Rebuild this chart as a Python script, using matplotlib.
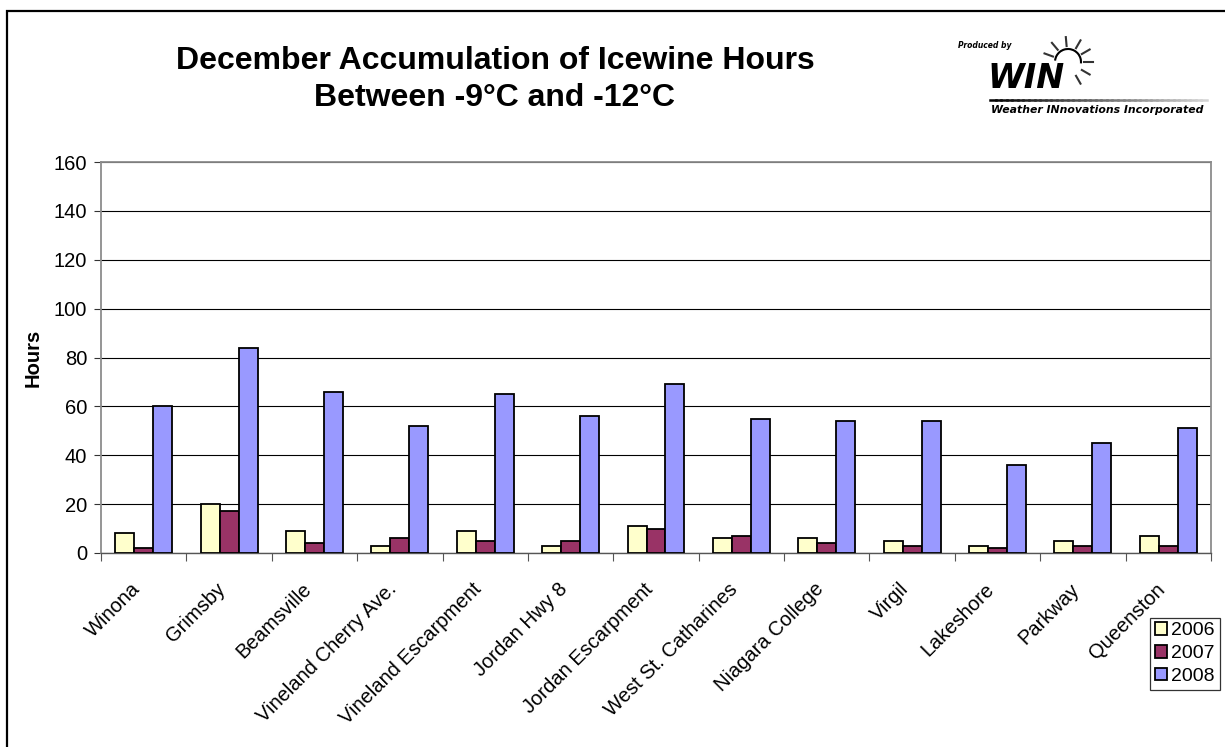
import numpy as np
import matplotlib
matplotlib.use("Agg")
import matplotlib.pyplot as plt
from matplotlib.patches import Rectangle, Arc
from matplotlib.lines import Line2D
from matplotlib.transforms import ScaledTranslation

plt.rcParams['font.family'] = ['Liberation Sans', 'DejaVu Sans']

stations = ["Winona", "Grimsby", "Beamsville", "Vineland Cherry Ave.",
            "Vineland Escarpment", "Jordan Hwy 8", "Jordan Escarpment",
            "West St. Catharines", "Niagara College", "Virgil", "Lakeshore",
            "Parkway", "Queenston"]
hours_2006 = [8, 20, 9, 3, 9, 3, 11, 6, 6, 5, 3, 5, 7]
hours_2007 = [2, 17, 4, 6, 5, 5, 10, 7, 4, 3, 2, 3, 3]
hours_2008 = [60, 84, 66, 52, 65, 56, 69, 55, 54, 54, 36, 45, 51]
years = ["2006", "2007", "2008"]
colors = ["#FFFFCC", "#993366", "#9999FF"]

W, H = 1225, 747
fig = plt.figure(figsize=(W / 100, H / 100), dpi=100)


def fx(px):
    return px / W


def fy(py):
    return 1 - py / H


# outer frame
fig.patches.append(Rectangle((fx(7), fy(760)), fx(1250) - fx(7), fy(11) - fy(760),
                             transform=fig.transFigure, fill=False,
                             edgecolor="black", linewidth=1.6))

ax = fig.add_axes([fx(101), fy(553), fx(1211) - fx(101), fy(162) - fy(553)])

x = np.arange(len(stations))
w = 0.222
for i, (vals, c, lab) in enumerate(zip([hours_2006, hours_2007, hours_2008], colors, years)):
    ax.bar(x + (i - 1) * w, vals, width=w, color=c, edgecolor="black",
           linewidth=1.3, label=lab, zorder=3)

ax.set_xlim(-0.5, len(stations) - 0.5)
ax.set_ylim(0, 160)
ax.set_yticks(np.arange(0, 161, 20))
ax.yaxis.grid(True, color="black", linewidth=0.8, zorder=0)
ax.tick_params(axis="y", labelsize=14.5, length=5, width=0.8, color="#333333", pad=5)

ax.set_xticks(x)
ax.set_xticklabels(stations, rotation=45, ha="right", rotation_mode="anchor", fontsize=14.5)
ax.set_xticks(np.arange(-0.5, len(stations), 1), minor=True)
ax.tick_params(axis="x", which="major", length=0, pad=19)
ax.tick_params(axis="x", which="minor", length=6, width=0.8, color="#555555")
shift = ScaledTranslation(-13 / 100, 0, fig.dpi_scale_trans)
for lbl in ax.get_xticklabels():
    lbl.set_transform(lbl.get_transform() + shift)

for side in ["top", "right", "left"]:
    ax.spines[side].set_color("#8c8c8c")
    ax.spines[side].set_linewidth(1.3)
ax.spines["bottom"].set_color("#555555")
ax.spines["bottom"].set_linewidth(1.0)

ax.set_ylabel("Hours", fontsize=14.5, fontweight="bold", labelpad=8)

leg = ax.legend(loc="upper left", bbox_to_anchor=(fx(1150 - 101) / (fx(1211) - fx(101)), -0.165),
                frameon=True, fancybox=False, fontsize=14, handlelength=0.6,
                handleheight=0.6, handletextpad=0.25, borderpad=0.25,
                labelspacing=0.3, borderaxespad=0)
leg.get_frame().set_edgecolor("black")
leg.get_frame().set_linewidth(0.9)

fig.text(fx(495), fy(61), "December Accumulation of Icewine Hours",
         ha="center", va="center", fontsize=23, fontweight="bold")
fig.text(fx(495), fy(98), "Between -9\u00b0C and -12\u00b0C",
         ha="center", va="center", fontsize=23, fontweight="bold")

# WIN logo
fig.text(fx(958), fy(45), "Produced by", fontsize=5.5, fontweight="bold",
         style="italic", va="center", family="DejaVu Sans")
fig.text(fx(987), fy(78), "WIN", fontsize=24, fontweight="bold", style="italic",
         va="center", ha="left", family="DejaVu Sans")
sx, sy = 1068, 62
fig.patches.append(Arc((fx(sx), fy(sy)), fx(26), (fy(0) - fy(26)), theta1=-10, theta2=170,
                       transform=fig.transFigure, color="black", linewidth=1.5))
for ang in [0, 30, 60, 95, 130, 160, -30, -60]:
    a = np.deg2rad(ang)
    x0 = sx + 16 * np.cos(a)
    y0 = sy - 16 * np.sin(a)
    x1 = sx + 25 * np.cos(a)
    y1 = sy - 25 * np.sin(a)
    fig.lines.append(Line2D([fx(x0), fx(x1)], [fy(y0), fy(y1)],
                            transform=fig.transFigure, color="#333333", linewidth=1.5))
gx = np.linspace(990, 1207, 40)
for k in range(len(gx) - 1):
    g = k / (len(gx) - 1) * 0.85
    fig.lines.append(Line2D([fx(gx[k]), fx(gx[k + 1])], [fy(100), fy(100)],
                            transform=fig.transFigure, color=(g, g, g), linewidth=1.8))
fig.text(fx(991), fy(110), "Weather INnovations Incorporated", fontsize=7.8,
         fontweight="bold", style="italic", va="center", family="DejaVu Sans")

fig.savefig("out.png", dpi=100)
